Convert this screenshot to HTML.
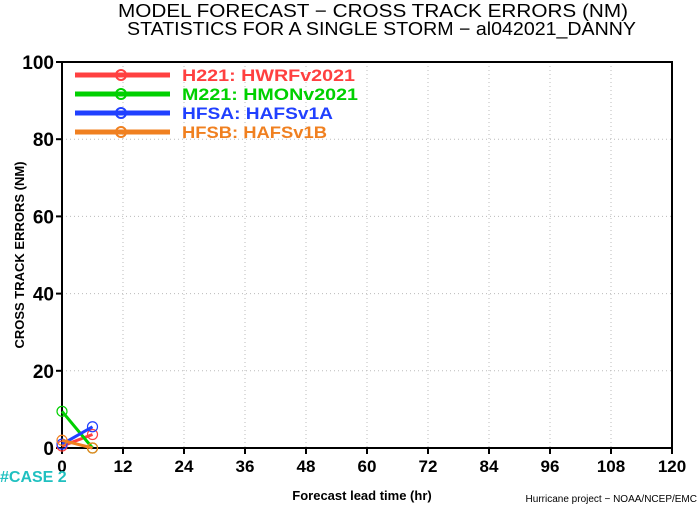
<!DOCTYPE html>
<html><head><meta charset="utf-8"><style>
body{margin:0;background:#fff;width:700px;height:506px;overflow:hidden}
svg{font-family:"Liberation Sans",sans-serif}
</style></head><body>
<svg id="chart" width="700" height="506" xmlns="http://www.w3.org/2000/svg">
<text x="118" y="17" font-size="18" textLength="510" lengthAdjust="spacingAndGlyphs">MODEL FORECAST − CROSS TRACK ERRORS (NM)</text>
<text x="127" y="35" font-size="18" textLength="509" lengthAdjust="spacingAndGlyphs">STATISTICS FOR A SINGLE STORM − al042021_DANNY</text>
<g id="grid"></g>
<rect x="62" y="62" width="610" height="386" fill="none" stroke="#000" stroke-width="2"/>
<g id="ticks"></g>
<text transform="translate(24,255) rotate(-90)" font-size="13" font-weight="bold" text-anchor="middle">CROSS TRACK ERRORS (NM)</text>
<text x="362" y="500" font-size="13" font-weight="bold" text-anchor="middle">Forecast lead time (hr)</text>
<text x="0" y="482" font-size="16" font-weight="bold" fill="#20c0c0">#CASE  2</text>
<text x="697" y="502" font-size="10" text-anchor="end">Hurricane project − NOAA/NCEP/EMC</text>
<g id="series"></g>
<g id="legend"></g>
</svg>
<script>
const xTicks=[0,12,24,36,48,60,72,84,96,108,120];
const yTicks=[0,20,40,60,80,100];
const leads=[0,6];
const names=["H221: HWRFv2021","M221: HMONv2021","HFSA: HAFSv1A","HFSB: HAFSv1B"];
const colors=["#ff4040","#00d000","#2040ff","#f08020"];
const h221=[0.5,3.5];
const m221=[9.5,0];
const hfsa=[1,5.5];
const hfsb=[2,0];
const allSeries=[h221,m221,hfsa,hfsb];
const legendWidths=[173,176,151,145];
const NS="http://www.w3.org/2000/svg";
const X0=62,X1=672,Y0=448,Y1=62;
function sx(v){return X0+(v-0)/(120-0)*(X1-X0);}
function sy(v){return Y0-(v-0)/(100-0)*(Y0-Y1);}
function mk(t,a,p){const e=document.createElementNS(NS,t);for(const k in a)e.setAttribute(k,a[k]);document.getElementById(p).appendChild(e);return e;}
xTicks.forEach(t=>{
 if(t>0&&t<120){const g=mk("line",{x1:sx(t),x2:sx(t),y1:Y1,y2:Y0,stroke:"#bbb","stroke-dasharray":"1,3"},"grid");
 
 }
 const k=mk("line",{x1:sx(t),x2:sx(t),y1:Y0,y2:Y0+6,stroke:"#000","stroke-width":2},"ticks");
 
 
 const l=mk("text",{x:sx(t),y:472,"font-size":17,"font-weight":"bold","text-anchor":"middle"},"ticks");l.textContent=t;
 
 
});
yTicks.forEach(t=>{
 if(t>0&&t<100){const g=mk("line",{x1:X0,x2:X1,y1:sy(t),y2:sy(t),stroke:"#bbb","stroke-dasharray":"1,3"},"grid");
 
 }
 const k=mk("line",{x1:X0-6,x2:X0,y1:sy(t),y2:sy(t),stroke:"#000","stroke-width":2},"ticks");
 
 
 const l=mk("text",{x:X0-8,y:sy(t)+7,"font-size":19,"font-weight":"bold","text-anchor":"end"},"ticks");l.textContent=t;
 
 
});
allSeries.forEach((s,i)=>{
 const pts=s.map((v,j)=>sx(leads[j])+","+sy(v)).join(" ");
 const pl=mk("polyline",{points:pts,fill:"none",stroke:colors[i],"stroke-width":3},"series");
 
 
 s.forEach((v,j)=>{const c=mk("circle",{cx:sx(leads[j]),cy:sy(v),r:5,fill:"none",stroke:colors[i],"stroke-width":1.2},"series");
 
 });
});
names.forEach((n,i)=>{
 const y=75+i*19;
 const ln=mk("line",{x1:75,x2:170,y1:y,y2:y,stroke:colors[i],"stroke-width":5},"legend");
 
 
 const c=mk("circle",{cx:121,cy:y,r:5,fill:"none",stroke:colors[i],"stroke-width":2},"legend");
 
 
 const t=mk("text",{x:182,y:y+6,"font-size":17,"font-weight":"bold",fill:colors[i],textLength:legendWidths[i],lengthAdjust:"spacingAndGlyphs"},"legend");t.textContent=n.replace(": ",":  ");
 
 
});
</script>
</body></html>
